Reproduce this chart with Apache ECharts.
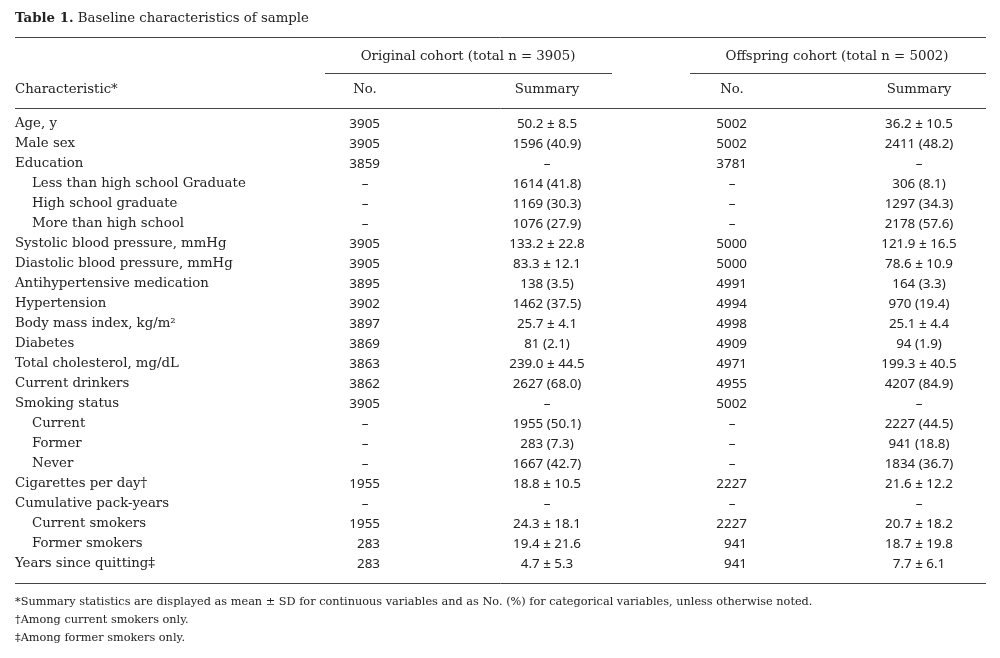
<!DOCTYPE html>
<html><head><meta charset="utf-8">
<script src="https://cdn.jsdelivr.net/npm/echarts@6/dist/echarts.min.js"></script>
<style>html,body{margin:0;padding:0;background:#fff}#c{width:1000px;height:658px}</style>
</head><body><div id="c"></div>
<script>
// ---- data ----
const characteristics = [
  "Age, y","Male sex","Education","Less than high school Graduate","High school graduate",
  "More than high school","Systolic blood pressure, mmHg","Diastolic blood pressure, mmHg",
  "Antihypertensive medication","Hypertension","Body mass index, kg/m²","Diabetes",
  "Total cholesterol, mg/dL","Current drinkers","Smoking status","Current","Former","Never",
  "Cigarettes per day†","Cumulative pack-years","Current smokers","Former smokers","Years since quitting‡"
];
const isSubRow = [0,0,0,1,1,1,0,0,0,0,0,0,0,0,0,1,1,1,0,0,1,1,0];
const originalNo = [3905,3905,3859,null,null,null,3905,3905,3895,3902,3897,3869,3863,3862,3905,null,null,null,1955,null,1955,283,283];
const originalSummary = ["50.2 ± 8.5","1596 (40.9)","–","1614 (41.8)","1169 (30.3)","1076 (27.9)","133.2 ± 22.8","83.3 ± 12.1","138 (3.5)","1462 (37.5)","25.7 ± 4.1","81 (2.1)","239.0 ± 44.5","2627 (68.0)","–","1955 (50.1)","283 (7.3)","1667 (42.7)","18.8 ± 10.5","–","24.3 ± 18.1","19.4 ± 21.6","4.7 ± 5.3"];
const offspringNo = [5002,5002,3781,null,null,null,5000,5000,4991,4994,4998,4909,4971,4955,5002,null,null,null,2227,null,2227,941,941];
const offspringSummary = ["36.2 ± 10.5","2411 (48.2)","–","306 (8.1)","1297 (34.3)","2178 (57.6)","121.9 ± 16.5","78.6 ± 10.9","164 (3.3)","970 (19.4)","25.1 ± 4.4","94 (1.9)","199.3 ± 40.5","4207 (84.9)","–","2227 (44.5)","941 (18.8)","1834 (36.7)","21.6 ± 12.2","–","20.7 ± 18.2","18.7 ± 19.8","7.7 ± 6.1"];
const titleBold = "Table 1.";
const titleText = " Baseline characteristics of sample";
const groupHeaders = ["Original cohort (total n = 3905)","Offspring cohort (total n = 5002)"];
const columnHeaders = ["Characteristic*","No.","Summary","No.","Summary"];
const footnotes = [
  "*Summary statistics are displayed as mean ± SD for continuous variables and as No. (%) for categorical variables, unless otherwise noted.",
  "†Among current smokers only.",
  "‡Among former smokers only."
];

// ---- styles ----
const SERIF = "'DejaVu Serif', serif";
const SANS = "'Noto Sans', sans-serif";
const TXT = "#222";
const LINE = "#444";
const BODY = 13.3, NUM = 13.4;

const chart = echarts.init(document.getElementById('c'), null, {renderer:'canvas'});

// numeric "No." column: right-aligned numbers, centered dash when missing
function noSeries(rightX, centerX, values) {
  return {
    type:'scatter', symbolSize:0, silent:true, animation:false, itemStyle:{opacity:1},
    data: values.map((v,i)=> v===null
      ? {value:[centerX, characteristics[i], '–'], label:{position:'inside'}}
      : {value:[rightX, characteristics[i], String(v)]}),
    label:{show:true, position:'left', distance:0, color:TXT, fontFamily:SANS, fontSize:NUM,
      formatter:p=>p.data.value[2]}
  };
}
function sumSeries(x, values) {
  return {
    type:'scatter', symbolSize:0, silent:true, animation:false, itemStyle:{opacity:1},
    data: values.map((v,i)=>[x, characteristics[i], v]),
    label:{show:true, position:'inside', color:TXT, fontFamily:SANS, fontSize:NUM,
      formatter:p=>p.data[2]}
  };
}

const option = {
  animation:false,
  grid:{left:0,right:0,top:114,height:460,containLabel:false},
  xAxis:{type:'value',min:0,max:1000,show:false},
  yAxis:{type:'category',data:characteristics,inverse:true,show:false},
  series:[
    {
      type:'scatter', symbolSize:0, silent:true, animation:false, itemStyle:{opacity:1},
      data: characteristics.map((c,i)=>[isSubRow[i]?32:15, c]),
      label:{show:true, position:'right', distance:0, color:TXT, fontFamily:SERIF, fontSize:BODY,
        formatter:p=>p.data[1]}
    },
    noSeries(380, 365, originalNo),
    sumSeries(547, originalSummary),
    noSeries(747, 732, offspringNo),
    sumSeries(919, offspringSummary)
  ],
  graphic:[
    {type:'text', left:15, top:12, style:{rich:{b:{fontWeight:'bold',fontFamily:SERIF,fontSize:BODY,fill:TXT},n:{fontFamily:SERIF,fontSize:BODY,fill:TXT}}, text:'{b|'+titleBold+'}{n|'+titleText+'}'}},
    {type:'line', shape:{x1:15,y1:37.5,x2:986,y2:37.5}, style:{stroke:LINE,lineWidth:1}},
    {type:'text', x:468, y:56.5, style:{text:groupHeaders[0], fontFamily:SERIF, fontSize:BODY, fill:TXT, align:'center', verticalAlign:'middle'}},
    {type:'text', x:837, y:56.5, style:{text:groupHeaders[1], fontFamily:SERIF, fontSize:BODY, fill:TXT, align:'center', verticalAlign:'middle'}},
    {type:'line', shape:{x1:325,y1:73.5,x2:612,y2:73.5}, style:{stroke:LINE,lineWidth:1}},
    {type:'line', shape:{x1:690,y1:73.5,x2:986,y2:73.5}, style:{stroke:LINE,lineWidth:1}},
    {type:'text', x:15, y:89.5, style:{text:columnHeaders[0], fontFamily:SERIF, fontSize:BODY, fill:TXT, align:'left', verticalAlign:'middle'}},
    {type:'text', x:365, y:89.5, style:{text:columnHeaders[1], fontFamily:SERIF, fontSize:BODY, fill:TXT, align:'center', verticalAlign:'middle'}},
    {type:'text', x:547, y:89.5, style:{text:columnHeaders[2], fontFamily:SERIF, fontSize:BODY, fill:TXT, align:'center', verticalAlign:'middle'}},
    {type:'text', x:732, y:89.5, style:{text:columnHeaders[3], fontFamily:SERIF, fontSize:BODY, fill:TXT, align:'center', verticalAlign:'middle'}},
    {type:'text', x:919, y:89.5, style:{text:columnHeaders[4], fontFamily:SERIF, fontSize:BODY, fill:TXT, align:'center', verticalAlign:'middle'}},
    {type:'line', shape:{x1:15,y1:108.5,x2:986,y2:108.5}, style:{stroke:LINE,lineWidth:1}},
    {type:'line', shape:{x1:15,y1:583.5,x2:986,y2:583.5}, style:{stroke:LINE,lineWidth:1}},
    {type:'text', x:15, y:602.5, style:{text:footnotes[0], fontFamily:SERIF, fontSize:11.3, fill:TXT, align:'left', verticalAlign:'middle'}},
    {type:'text', x:15, y:620.5, style:{text:footnotes[1], fontFamily:SERIF, fontSize:11.3, fill:TXT, align:'left', verticalAlign:'middle'}},
    {type:'text', x:15, y:638.5, style:{text:footnotes[2], fontFamily:SERIF, fontSize:11.3, fill:TXT, align:'left', verticalAlign:'middle'}}
  ]
};
chart.setOption(option);
</script></body></html>
